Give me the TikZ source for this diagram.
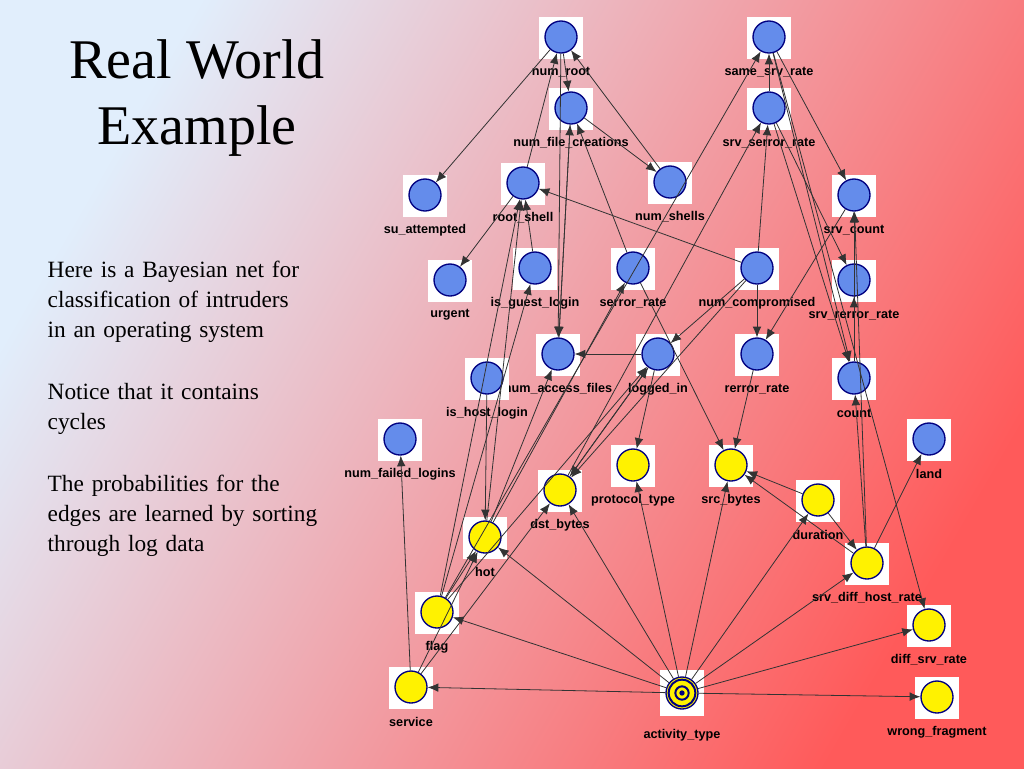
\documentclass[tikz,border=0pt]{standalone}
\usepackage{fontspec}
\usetikzlibrary{arrows.meta}
\setmainfont{Liberation Serif}
\newfontfamily\lab{Liberation Sans}
\begin{document}
\begin{tikzpicture}[x=0.75pt,y=-0.75pt,
  bn/.style={circle,draw=blue!50!black,line width=1pt,minimum size=24pt,inner sep=0pt},
  bl/.style={bn,fill={rgb,255:red,100;green,140;blue,235}},
  yl/.style={bn,fill=yellow},
  lb/.style={font=\lab\bfseries\fontsize{9.5}{10}\selectfont,text=black},
  e/.style={-{Latex[length=8pt,width=6.5pt]},black!80,line width=0.6pt}]
\useasboundingbox (0,0) rectangle (1024,768);
\shade[left color={rgb,255:red,225;green,238;blue,252},right color={rgb,255:red,255;green,90;blue,90},shading angle=60] (0,0) rectangle (1024,768);
\node[font=\fontsize{42}{49}\selectfont,align=center] (title) at (197,98) {Real World\\Example};
\node[font=\fontsize{17.5}{22.5}\selectfont,align=left,anchor=north west,text width=320pt] (txt) at (43,256) {Here is a Bayesian net for\\classification of intruders\\in an operating system\\[24pt]Notice that it contains\\cycles\\[24pt]The probabilities for the\\edges are learned by sorting\\through log data};
\foreach \n/\x/\y/\s/\t in {
 nr/561/37/bl/num\_root, ssr/769/37/bl/same\_srv\_rate,
 nfc/571/108/bl/num\_file\_creations, sser/769/108/bl/srv\_serror\_rate,
 sua/425/195/bl/su\_attempted, rs/523/183/bl/root\_shell, ns/670/182/bl/num\_shells, sc/854/195/bl/srv\_count,
 urg/450/280/bl/urgent, igl/535/268/bl/is\_guest\_login, ser/633/268/bl/serror\_rate, nc/757/268/bl/num\_compromised, srr/854/280/bl/srv\_rerror\_rate,
 naf/558/354/bl/num\_access\_files, li/658/354/bl/logged\_in, rr/757/354/bl/rerror\_rate, ihl/487/378/bl/is\_host\_login, cnt/854/378/bl/count,
 nfl/400/439/bl/num\_failed\_logins, land/929/439/bl/land,
 pt/633/465/yl/protocol\_type, sb/731/465/yl/src\_bytes, db/560/490/yl/dst\_bytes, dur/818/500/yl/duration,
 hot/485/537/yl/hot, sdh/867/563/yl/srv\_diff\_host\_rate, flag/437/612/yl/flag, dsr/929/625/yl/diff\_srv\_rate,
 svc/411/687/yl/service, wf/937/697/yl/wrong\_fragment}{
  \fill[white] (\x-22,\y-20) rectangle (\x+22,\y+22);
  \node[bn,\s] (\n) at (\x,\y) {};
  \node[lb] (\n-l) at (\x,\y+35) {\t};
}
\fill[white] (660,670) rectangle (704,716);
\node[yl] (at) at (682,693) {};
\draw[blue!50!black,line width=1.5pt] (at) circle (10pt) (at) circle (5pt);
\fill[blue!50!black] (at) circle (2pt);
\node[lb] (at-l) at (682,735) {activity\_type};
\foreach \a/\b in {at/svc,at/flag,at/hot,at/db,at/pt,at/sb,at/dur,at/sdh,at/dsr,at/wf,
 nr/sua,nr/nfc,nfc/ns,ns/nr,rs/urg,rs/nr,igl/rs,nc/rs,nfc/naf,naf/nfc,ser/nfc,
 ssr/sc,sser/ssr,nc/sser,ssr/cnt,sser/cnt,cnt/srr,srr/sc,cnt/sc,ihl/hot,flag/rs,flag/igl,hot/naf,
 flag/ssr,db/sser,nc/db,li/db,rr/sb,li/pt,dur/sb,sdh/sb,dur/sdh,sdh/cnt,sdh/land,svc/nfl,svc/hot,
 ser/sb,nc/rr,sc/rr,ssr/dsr,sser/srr,li/naf,flag/li,hot/rs,svc/db,db/li,nc/li,sdh/sc,flag/hot,hot/ser,nr/naf}
 {\draw[e] (\a) -- (\b);}
\end{tikzpicture}
\end{document}
